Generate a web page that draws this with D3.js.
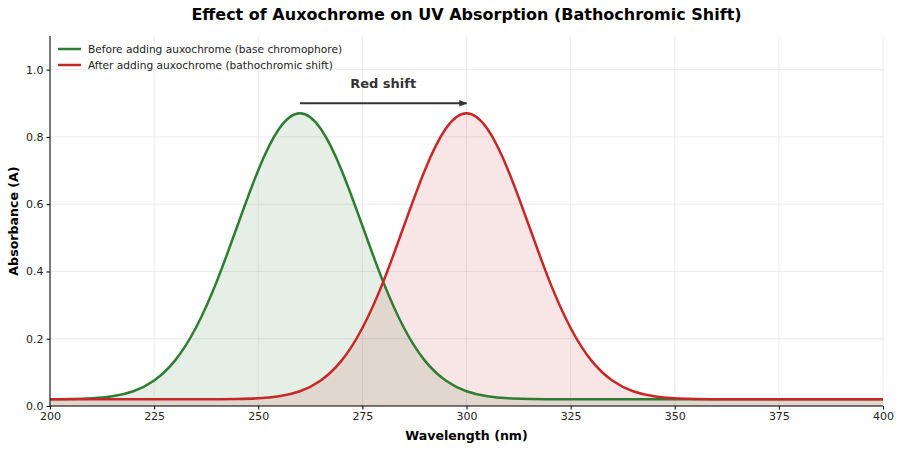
<!DOCTYPE html>
<html>
<head>
<meta charset="utf-8">
<script src="https://cdn.jsdelivr.net/npm/d3@7"></script>
<style>
	body { margin: 0; background: #fff; }
	svg { display: block; }
	text { font-family: "DejaVu Sans", sans-serif; }
	.axis path, .axis line { stroke: #000; }
	.axis text { font-size: 11px; fill: #222; font-family: "DejaVu Sans", sans-serif; }
</style>
</head>
<body>
<div id="chart"></div>
<script>
// ----------------------------------
// DATA (5 nm steps)
// ----------------------------------
const wavelengths = d3.range(200, 401, 5);

const beforeAbs = [
	0.020, 0.021, 0.023, 0.029, 0.044, 0.076, 0.135, 0.232, 0.369, 0.536,
	0.701, 0.824, 0.870, 0.824, 0.701, 0.536, 0.369, 0.232, 0.135, 0.076,
	0.044, 0.029, 0.023, 0.021, 0.020, 0.020, 0.020, 0.020, 0.020, 0.020,
	0.020, 0.020, 0.020, 0.020, 0.020, 0.020, 0.020, 0.020, 0.020, 0.020,
	0.020
];

const afterAbs = [
	0.020, 0.020, 0.020, 0.020, 0.020, 0.020, 0.020, 0.020, 0.020, 0.021,
	0.023, 0.029, 0.044, 0.076, 0.135, 0.232, 0.369, 0.536, 0.701, 0.824,
	0.870, 0.824, 0.701, 0.536, 0.369, 0.232, 0.135, 0.076, 0.044, 0.029,
	0.023, 0.021, 0.020, 0.020, 0.020, 0.020, 0.020, 0.020, 0.020, 0.020,
	0.020
];

const xTicks = [200, 225, 250, 275, 300, 325, 350, 375, 400];
const yTicks = [0, 0.2, 0.4, 0.6, 0.8, 1.0];

const seriesNames = [
	'Before adding auxochrome (base chromophore)',
	'After adding auxochrome (bathochromic shift)'
];
const shiftFrom = 260, shiftTo = 300, shiftLevel = 0.9;

// ----------------------------------
// SETUP
// ----------------------------------
const width = 900, height = 450,
	margin = {top: 36, right: 17, bottom: 44, left: 50},
	innerWidth = width - margin.left - margin.right,
	innerHeight = height - margin.top - margin.bottom;

const green = '#2e7d32', red = '#c62828';

const svg = d3.select('#chart').append('svg')
	.attr('width', width)
	.attr('height', height);

const g = svg.append('g')
	.attr('transform', `translate(${margin.left}, ${margin.top})`);

const xScale = d3.scaleLinear().domain([200, 400]).range([0, innerWidth]);
const yScale = d3.scaleLinear().domain([0, 1.1]).range([innerHeight, 0]);

// grid
g.append('g').selectAll('line')
	.data(xTicks)
	.join('line')
	.attr('x1', d => xScale(d)).attr('x2', d => xScale(d))
	.attr('y1', 0).attr('y2', innerHeight)
	.attr('stroke', '#e6e6e6').attr('stroke-width', 0.8);

g.append('g').selectAll('line')
	.data(yTicks)
	.join('line')
	.attr('x1', 0).attr('x2', innerWidth)
	.attr('y1', d => yScale(d)).attr('y2', d => yScale(d))
	.attr('stroke', '#e6e6e6').attr('stroke-width', 0.8);

// ----------------------------------
// CURVES
// ----------------------------------
const series = [
	{name: seriesNames[0], values: beforeAbs, color: green},
	{name: seriesNames[1], values: afterAbs, color: red}
];

series.forEach(s => {
	const pts = wavelengths.map((w, i) => ({x: w, y: s.values[i]}));

	const area = d3.area()
		.x(d => xScale(d.x))
		.y0(yScale(0))
		.y1(d => yScale(d.y))
		.curve(d3.curveNatural);

	g.append('path')
		.datum(pts)
		.attr('d', area)
		.attr('fill', s.color)
		.attr('fill-opacity', 0.12);
});

series.forEach(s => {
	const pts = wavelengths.map((w, i) => ({x: w, y: s.values[i]}));

	const line = d3.line()
		.x(d => xScale(d.x))
		.y(d => yScale(d.y))
		.curve(d3.curveNatural);

	g.append('path')
		.datum(pts)
		.attr('d', line)
		.attr('fill', 'none')
		.attr('stroke', s.color)
		.attr('stroke-width', 2.5);
});

// ----------------------------------
// AXES
// ----------------------------------
const xAxis = g.append('g')
	.attr('class', 'axis')
	.attr('transform', `translate(0, ${innerHeight})`)
	.call(d3.axisBottom(xScale).tickValues(xTicks).tickSize(3.5).tickPadding(3).tickFormat(d3.format('d')));

const yAxis = g.append('g')
	.attr('class', 'axis')
	.call(d3.axisLeft(yScale).tickValues(yTicks).tickSize(3.5).tickPadding(3).tickFormat(d3.format('.1f')));

xAxis.select('.domain').attr('d', `M0,0H${innerWidth}`);
yAxis.select('.domain').attr('d', `M0,${innerHeight}V0`);

// ----------------------------------
// ANNOTATION
// ----------------------------------
svg.append('defs').append('marker')
	.attr('id', 'arrow')
	.attr('viewBox', '0 0 10 10')
	.attr('refX', 9).attr('refY', 5)
	.attr('markerWidth', 4).attr('markerHeight', 4)
	.attr('orient', 'auto')
	.append('path')
	.attr('d', 'M0,1L10,5L0,9z')
	.attr('fill', '#333');

g.append('line')
	.attr('x1', xScale(shiftFrom)).attr('x2', xScale(shiftTo))
	.attr('y1', yScale(shiftLevel)).attr('y2', yScale(shiftLevel))
	.attr('stroke', '#333').attr('stroke-width', 2)
	.attr('marker-end', 'url(#arrow)');

g.append('text')
	.attr('x', xScale((shiftFrom + shiftTo) / 2))
	.attr('y', yScale(0.96))
	.attr('dy', '0.35em')
	.attr('text-anchor', 'middle')
	.style('font-size', '13px')
	.style('font-weight', 'bold')
	.style('fill', '#333')
	.text('Red shift');

// ----------------------------------
// LEGEND
// ----------------------------------
const legend = g.append('g').attr('transform', 'translate(8, 13)');
series.forEach((s, i) => {
	const row = legend.append('g').attr('transform', `translate(0, ${i * 16})`);
	row.append('line')
		.attr('x1', 0).attr('x2', 23)
		.attr('stroke', s.color).attr('stroke-width', 2.5);
	row.append('text')
		.attr('x', 30).attr('dy', '0.35em')
		.style('font-size', '10.6px')
		.style('fill', '#222')
		.text(s.name);
});

// ----------------------------------
// TITLES
// ----------------------------------
svg.append('text')
	.attr('x', margin.left + innerWidth / 2)
	.attr('y', 20)
	.attr('text-anchor', 'middle')
	.style('font-size', '16px')
	.style('font-weight', 'bold')
	.text('Effect of Auxochrome on UV Absorption (Bathochromic Shift)');

svg.append('text')
	.attr('x', margin.left + innerWidth / 2)
	.attr('y', 440)
	.attr('text-anchor', 'middle')
	.style('font-size', '12.6px')
	.style('font-weight', 'bold')
	.text('Wavelength (nm)');

svg.append('text')
	.attr('transform', `translate(18, ${margin.top + innerHeight / 2}) rotate(-90)`)
	.attr('text-anchor', 'middle')
	.style('font-size', '12.6px')
	.style('font-weight', 'bold')
	.text('Absorbance (A)');
</script>
</body>
</html>
